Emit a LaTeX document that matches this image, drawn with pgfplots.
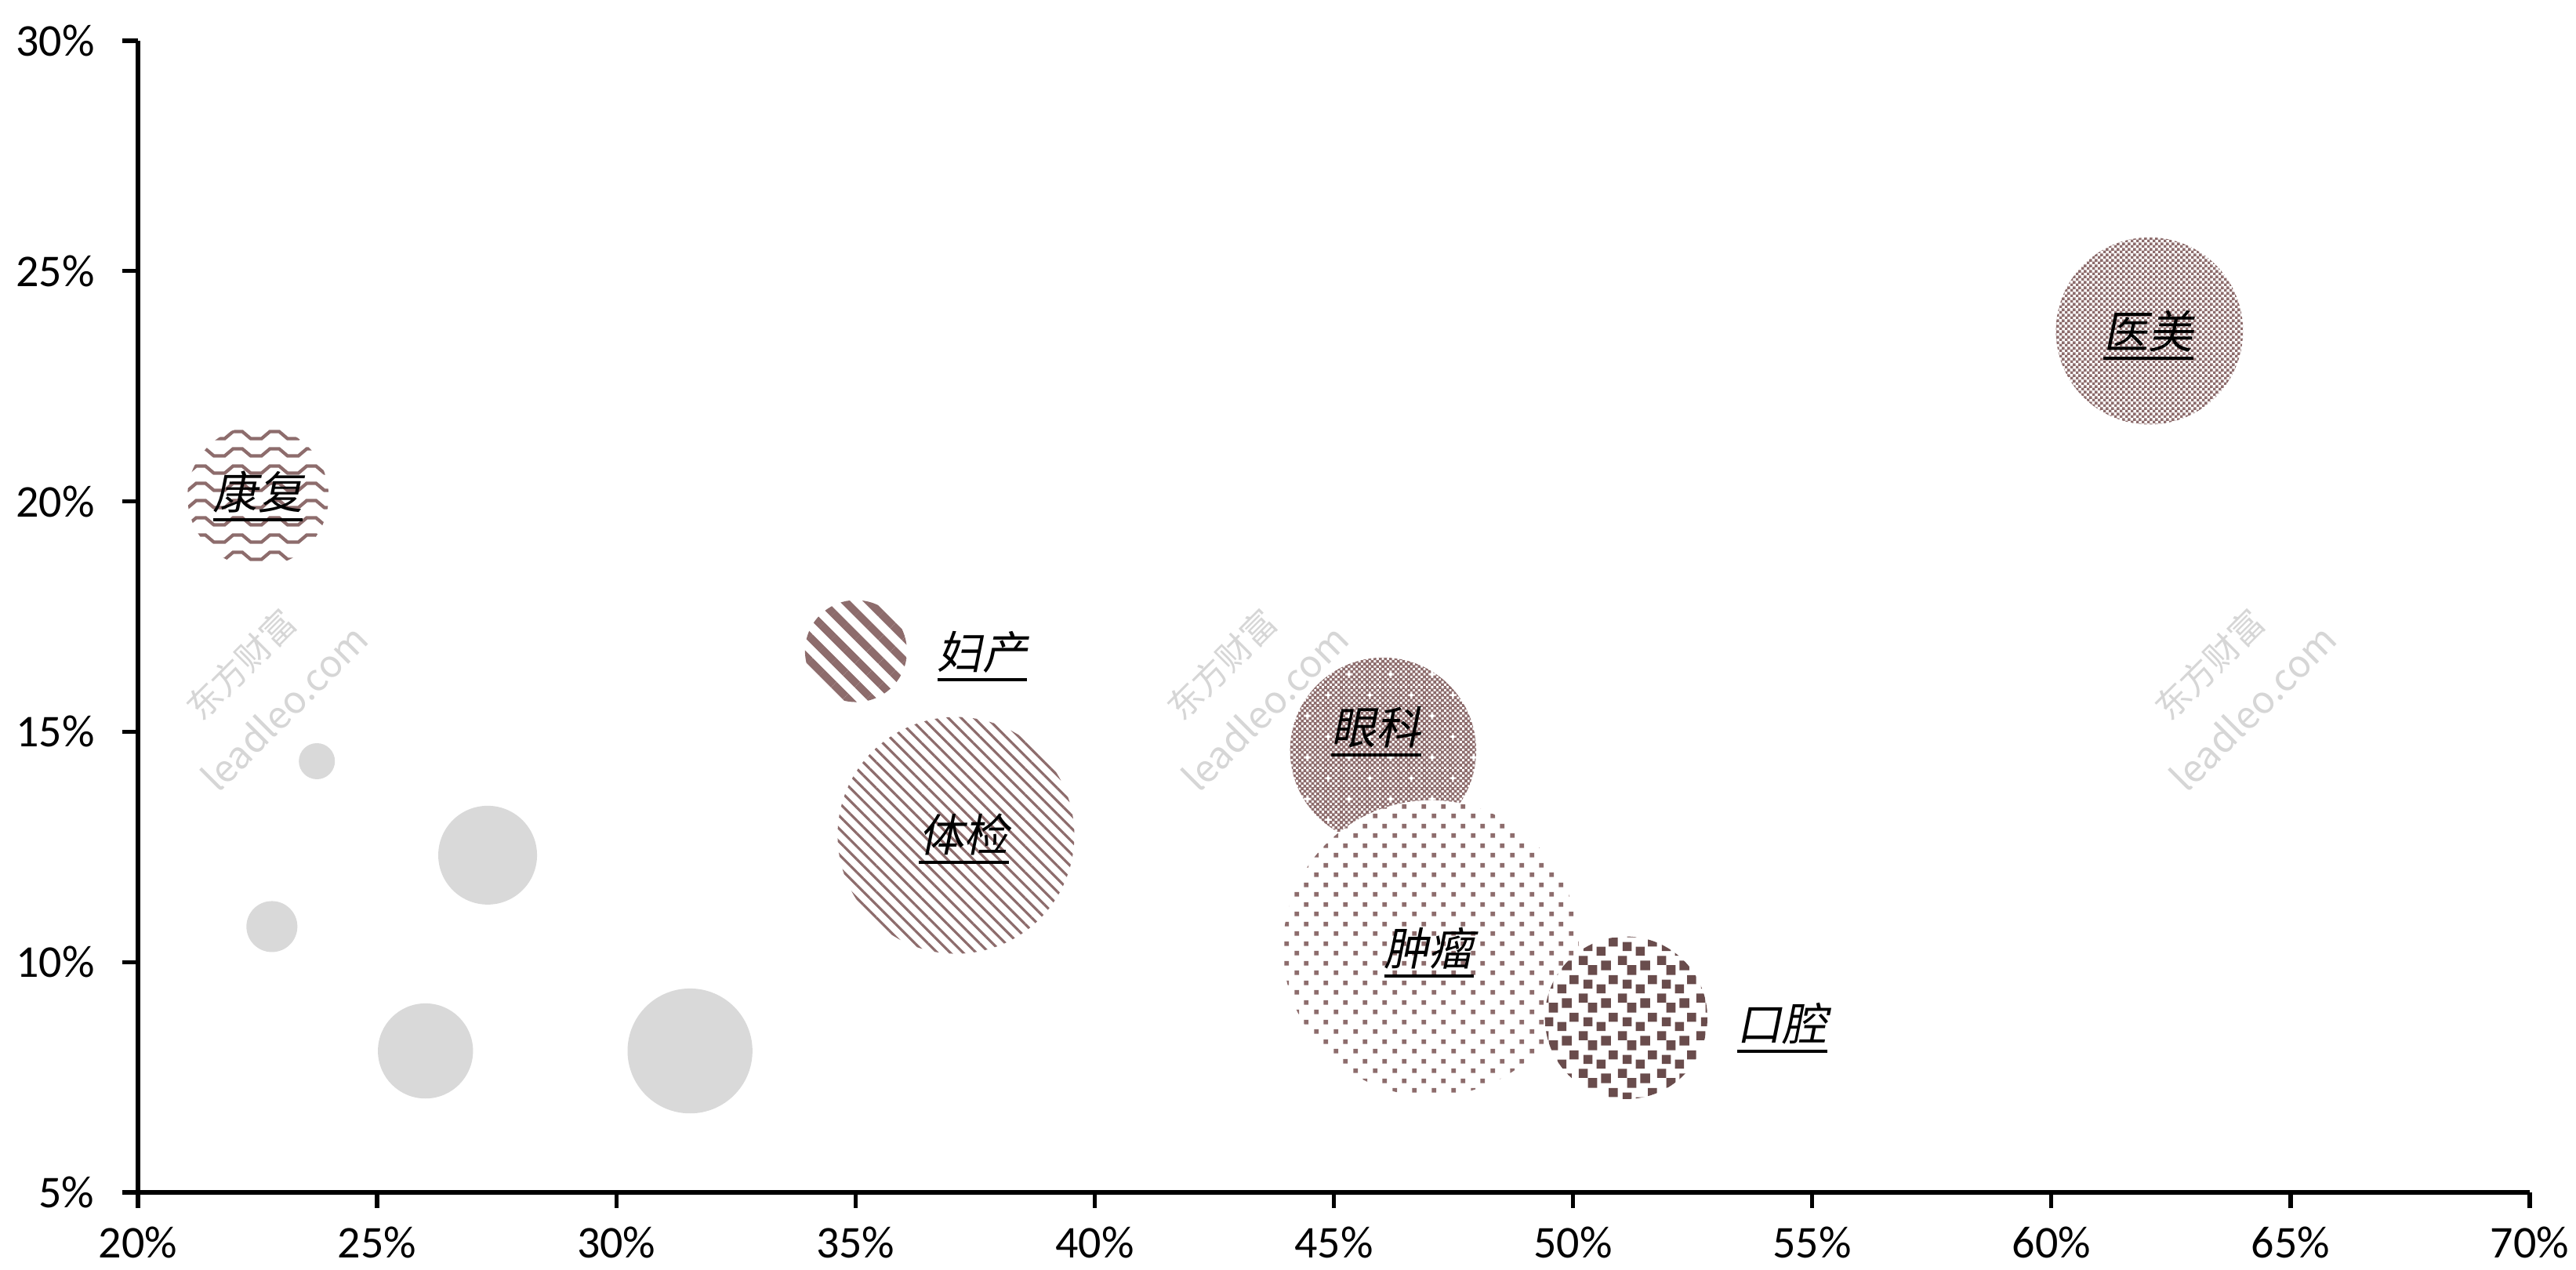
\documentclass[border=0pt]{standalone}
\usepackage{fontspec}
\setmainfont{Carlito}
\newfontfamily\cjk[FakeSlant=0.2]{Noto Sans CJK SC}
\newfontfamily\cjkwm{Noto Sans CJK SC}
\usepackage{pgfplots}
\pgfplotsset{compat=1.18}
\usetikzlibrary{patterns,patterns.meta}

\definecolor{pk}{RGB}{141,108,108}
\definecolor{pkd}{RGB}{105,76,76}
\definecolor{gb}{RGB}{217,217,217}
\definecolor{wm}{RGB}{214,214,214}

\newcommand{\ul}[1]{\leavevmode\vtop{\hbox{#1}\kern1.0pt\hrule height 0.6pt}}

% checkerboard (医美)
\pgfdeclarepatternformonly{chkfine}{\pgfqpoint{0pt}{0pt}}{\pgfqpoint{1pt}{1pt}}{\pgfqpoint{1pt}{1pt}}{%
  \pgfpathrectangle{\pgfqpoint{0pt}{0pt}}{\pgfqpoint{0.54pt}{0.54pt}}%
  \pgfpathrectangle{\pgfqpoint{0.5pt}{0.5pt}}{\pgfqpoint{0.54pt}{0.54pt}}%
  \pgfpathrectangle{\pgfqpoint{-0.5pt}{-0.5pt}}{\pgfqpoint{0.54pt}{0.54pt}}%
  \pgfusepath{fill}}
% checkerboard with small white crosses (眼科)
\pgfdeclarepatternformonly{eyechk}{\pgfqpoint{0pt}{0pt}}{\pgfqpoint{8pt}{8pt}}{\pgfqpoint{8pt}{8pt}}{%
  \foreach \i in {0,...,15}{\foreach \j in {0,...,15}{%
    \pgfmathtruncatemacro\pp{mod(\i+\j,2)}%
    \pgfmathtruncatemacro\cc{or(or(and(\i==4,abs(\j-4)<2),and(\j==4,abs(\i-4)<2)),or(and(\i==12,abs(\j-12)<2),and(\j==12,abs(\i-12)<2)))}%
    \ifnum\pp=0 \ifnum\cc=0
      \pgfpathrectangle{\pgfpoint{\i*0.5pt-0.03pt}{\j*0.5pt-0.03pt}}{\pgfqpoint{0.56pt}{0.56pt}}\pgfusepath{fill}%
    \fi\fi}}}
% staggered dots (肿瘤)
\pgfdeclarepatternformonly{tumdots}{\pgfqpoint{0pt}{0pt}}{\pgfqpoint{3.75pt}{3.75pt}}{\pgfqpoint{3.75pt}{3.75pt}}{%
  \pgfpathrectangle{\pgfqpoint{0.2pt}{0.2pt}}{\pgfqpoint{0.9pt}{0.9pt}}%
  \pgfpathrectangle{\pgfqpoint{2.075pt}{2.075pt}}{\pgfqpoint{0.9pt}{0.9pt}}%
  \pgfusepath{fill}}
% zigzag wave (康复)
\pgfdeclarepatternformonly{wave}{\pgfqpoint{0pt}{0pt}}{\pgfqpoint{7pt}{3.3pt}}{\pgfqpoint{7pt}{3.3pt}}{%
  \pgfsetlinewidth{0.65pt}%
  \pgfpathmoveto{\pgfqpoint{-1pt}{0.7pt}}%
  \pgfpathlineto{\pgfqpoint{1.0pt}{0.7pt}}%
  \pgfpathlineto{\pgfqpoint{2.6pt}{2.1pt}}%
  \pgfpathlineto{\pgfqpoint{4.4pt}{2.1pt}}%
  \pgfpathlineto{\pgfqpoint{6.0pt}{0.7pt}}%
  \pgfpathlineto{\pgfqpoint{8pt}{0.7pt}}%
  \pgfusepath{stroke}}
% large confetti squares (口腔)
\pgfdeclarepatternformonly{confetti}{\pgfqpoint{0pt}{0pt}}{\pgfqpoint{7.5pt}{7.2pt}}{\pgfqpoint{7.5pt}{7.2pt}}{%
  \foreach \dx in {-7.5,0,7.5}{\foreach \dy in {-7.2,0,7.2}{%
    \foreach \x/\y in {1.2/5.25,3.9/4.35,6.45/3.45,3.0/1.65,7.35/0.75,4.8/7.05}{%
      \pgfpathrectangle{\pgfpoint{\x pt+\dx pt-0.88pt}{\y pt+\dy pt-0.88pt}}{\pgfqpoint{1.76pt}{1.76pt}}\pgfusepath{fill}}}}}

\pgfplotsset{
  bub/.style 2 args={only marks, mark=none, draw=none, nodes near coords={},
    nodes near coords align={anchor=center},
    every node near coord/.style={circle, inner sep=0pt, outer sep=0pt,
      minimum size=#1, fill=white, draw=none, anchor=center,
      postaction={draw=none, #2}}},
}

\begin{document}
\begin{tikzpicture}
\begin{axis}[
  scale only axis, width=457.65pt, height=220.35pt,
  xmin=20, xmax=70, ymin=5, ymax=30,
  axis x line*=bottom, axis y line*=left,
  axis line style={line width=0.8pt, black, -},
  xtick={20,25,...,70}, ytick={5,10,...,30},
  tick align=outside, major tick length=3pt,
  tick style={line width=0.8pt, black},
  xticklabel={\pgfmathprintnumber{\tick}\%},
  yticklabel={\pgfmathprintnumber{\tick}\%},
  /pgf/number format/assume math mode=true,
  tick label style={font=\fontsize{8.7}{10}\selectfont},
  yticklabel style={xshift=-1.8pt},
  clip=false,
]
\coordinate (BL) at (rel axis cs:0,0);
\coordinate (TR) at (rel axis cs:1,1);
% watermarks
\node[rotate=45, text=wm, align=center] at (axis cs:22.6,16.0) {{\cjkwm\fontsize{6.6}{9}\selectfont 东方财富}\\{\cjkwm\fontsize{7.2}{9}\selectfont leadleo.com}};
\node[rotate=45, text=wm, align=center] at (axis cs:43.1,16.0) {{\cjkwm\fontsize{6.6}{9}\selectfont 东方财富}\\{\cjkwm\fontsize{7.2}{9}\selectfont leadleo.com}};
\node[rotate=45, text=wm, align=center] at (axis cs:63.75,16.0) {{\cjkwm\fontsize{6.6}{9}\selectfont 东方财富}\\{\cjkwm\fontsize{7.2}{9}\selectfont leadleo.com}};

% grey bubbles
\addplot[bub={6.9pt}{fill=gb}] coordinates {(23.74,14.36)};
\addplot[bub={18.9pt}{fill=gb}] coordinates {(27.31,12.32)};
\addplot[bub={9.75pt}{fill=gb}] coordinates {(22.80,10.77)};
\addplot[bub={18.2pt}{fill=gb}] coordinates {(26.01,8.07)};
\addplot[bub={23.9pt}{fill=gb}] coordinates {(31.54,8.07)};
% patterned bubbles
\addplot[bub={27.0pt}{pattern=wave, pattern color=pk}] coordinates {(22.51,20.11)};
\addplot[bub={19.5pt}{pattern={Lines[angle=-45, distance=3.2pt, line width=1.5pt]}, pattern color=pk}] coordinates {(35.01,16.75)};
\addplot[bub={45.3pt}{pattern={Lines[angle=-45, distance=1.75pt, line width=0.48pt]}, pattern color=pk}] coordinates {(37.10,12.75)};
\addplot[bub={35.8pt}{pattern=chkfine, pattern color=pk}] coordinates {(62.05,23.70)};
\addplot[bub={35.6pt}{pattern=eyechk, pattern color=pk}] coordinates {(46.03,14.59)};
\addplot[bub={56.6pt}{pattern=tumdots, pattern color=pk}] coordinates {(47.03,10.30)};
\addplot[bub={31.1pt}{pattern=confetti, pattern color=pkd}] coordinates {(51.11,8.79)};

% labels
\addplot[only marks, mark=none, point meta=explicit symbolic,
  nodes near coords={\ul{\pgfplotspointmeta}},
  nodes near coords align={anchor=center},
  every node near coord/.style={anchor=center, font=\cjk\fontsize{8.6}{10}\selectfont, text=black, inner sep=0pt}]
  table[meta=label, row sep=\\] {
  x y label \\
  62.03 23.61 医美 \\
  22.51 20.11 康复 \\
  37.65 16.64 妇产 \\
  37.27 12.68 体检 \\
  45.89 15.00 眼科 \\
  46.99 10.21 肿瘤 \\
  54.37 8.57 口腔 \\
  };
\end{axis}
\pgfresetboundingbox
\path ([xshift=-26.4pt,yshift=-14.85pt]BL) rectangle ([xshift=8.85pt,yshift=7.8pt]TR);
\end{tikzpicture}
\end{document}
